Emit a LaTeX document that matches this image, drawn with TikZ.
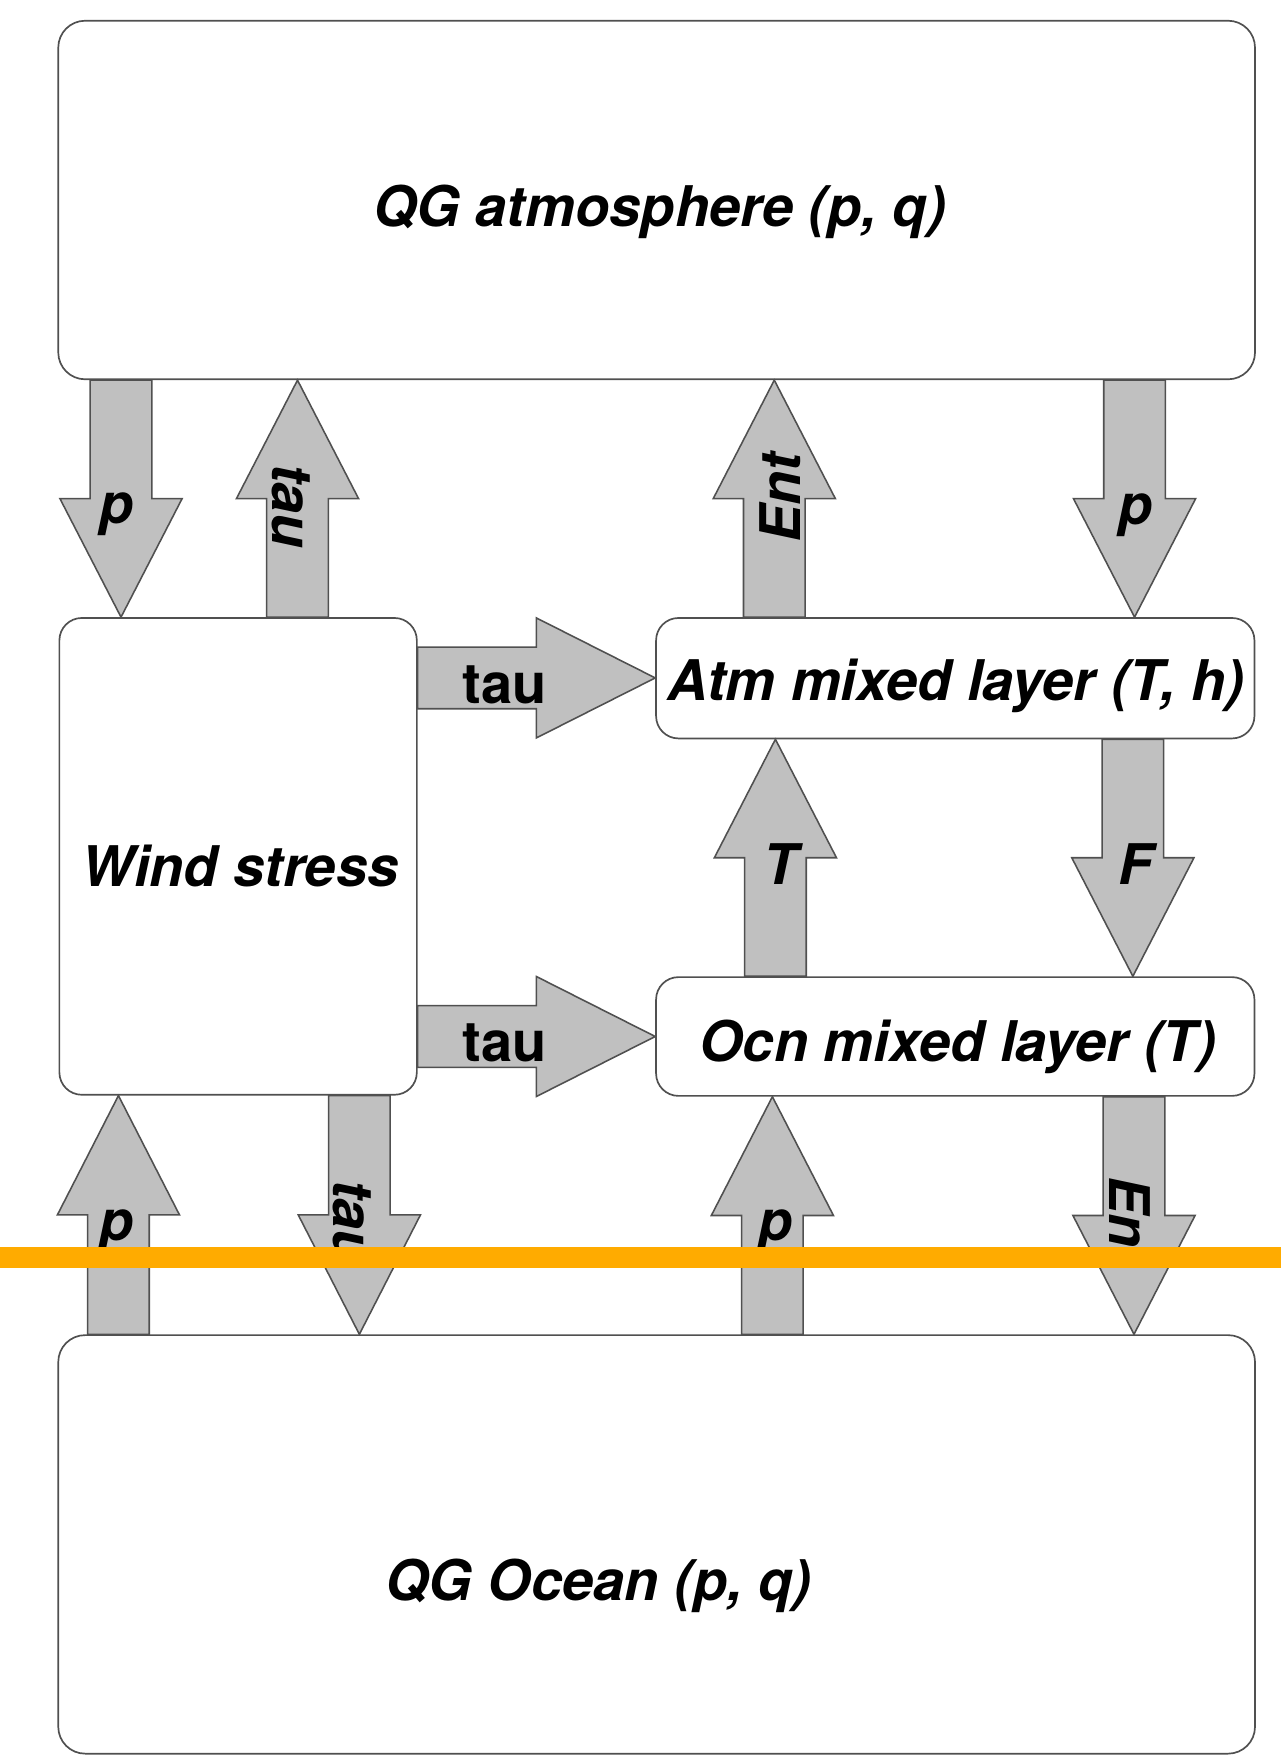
\documentclass[tikz,border=0pt]{standalone}
\usepackage{fontspec}
\setmainfont{TeX Gyre Heros}
\usetikzlibrary{calc}
\definecolor{arrowfill}{RGB}{192,192,192}
\definecolor{edgegray}{RGB}{80,80,80}
\definecolor{barorange}{RGB}{255,171,0}

% vertical block arrow: #1 = x, #2 = start anchor, #3 = tip anchor
\newcommand{\vblk}[3]{%
  \draw[blk] let \p1=(#2), \p2=(#3), \p3=($(#2)!0.5!(#3)$) in
    (#1pt-27.5pt,\y1) -- (#1pt+27.5pt,\y1) -- (#1pt+27.5pt,\y3) -- (#1pt+54.5pt,\y3)
    -- (#1pt,\y2) -- (#1pt-54.5pt,\y3) -- (#1pt-27.5pt,\y3) -- cycle;}
% horizontal block arrow: #1 = y, #2 = start anchor, #3 = tip anchor
\newcommand{\hblk}[3]{%
  \draw[blk] let \p1=(#2), \p2=(#3), \p3=($(#2)!0.5!(#3)$) in
    (\x1,-#1pt+27.5pt) -- (\x3,-#1pt+27.5pt) -- (\x3,-#1pt+53.5pt) -- (\x2,-#1pt)
    -- (\x3,-#1pt-53.5pt) -- (\x3,-#1pt-27.5pt) -- (\x1,-#1pt-27.5pt) -- cycle;}

\begin{document}
\begin{tikzpicture}[x=1pt,y=-1pt,
  box/.style={draw=edgegray, line width=1.5pt, fill=white, inner sep=0pt, rounded corners=#1},
  box/.default=20pt,
  blk/.style={draw=edgegray, line width=1.4pt, fill=arrowfill, line join=miter},
  lbl/.style={font=\fontsize{50}{60}\selectfont\bfseries\itshape, inner sep=0pt},
  lblu/.style={font=\fontsize{50}{60}\selectfont\bfseries, inner sep=0pt}]

\fill[white] (0,0) rectangle (1143,1568);
\useasboundingbox (0,0) rectangle (1143,1568);

% boxes
\node[box=24pt, minimum width=1068pt, minimum height=320pt] (atm) at (586,178.5) {};
\node[box, minimum width=319pt, minimum height=425.5pt] (wind) at (212.5,764.25) {};
\node[box, minimum width=534pt, minimum height=107.5pt] (aml) at (852.5,605.25) {};
\node[box, minimum width=534pt, minimum height=106pt] (oml) at (852.5,925) {};
\node[box=24pt, minimum width=1068pt, minimum height=373.5pt] (ocean) at (586,1378.25) {};

% box texts
\node[lbl, anchor=base] (atmT) at (588.5,202) {QG atmosphere (p, q)};
\node[lbl, anchor=base] (windT) at (214,791) {Wind stress};
\node[lbl, anchor=base] (amlT) at (853,625) {Atm mixed layer (T, h)};
\node[lbl, anchor=base] (omlT) at (854.5,947) {Ocn mixed layer (T)};
\node[lbl, anchor=base] (oceT) at (534,1428) {QG Ocean (p, q)};

% block arrows
\vblk{108}{atm.south}{wind.north}
\vblk{265.5}{wind.north}{atm.south}
\vblk{691}{aml.north}{atm.south}
\vblk{1012.5}{atm.south}{aml.north}
\hblk{605}{wind.east}{aml.west}
\hblk{925}{wind.east}{oml.west}
\vblk{692}{oml.north}{aml.south}
\vblk{1011}{aml.south}{oml.north}
\vblk{105.7}{ocean.north}{wind.south}
\vblk{320.7}{wind.south}{ocean.north}
\vblk{689.3}{ocean.north}{oml.south}
\vblk{1012}{oml.south}{ocean.north}

% arrow labels
\node[lbl, anchor=base] (lp1) at (104.5,467) {p};
\node[lbl, rotate=-90] (ltau1) at (259.5,451.5) {tau};
\node[lbl, rotate=90] (lent1) at (696,444) {Ent};
\node[lbl, anchor=base] (lp2) at (1013,468) {p};
\node[lblu, anchor=base] (ltauh1) at (450.5,628) {tau};
\node[lblu, anchor=base] (ltauh2) at (450.5,947) {tau};
\node[lbl, anchor=base] (lT) at (697,789) {T};
\node[lbl, anchor=base] (lF) at (1013.5,789) {F};
\node[lbl, anchor=base] (lp3) at (104,1107) {p};
\node[lbl, rotate=-90] (ltau2) at (314,1090.5) {tau};
\node[lbl, anchor=base] (lp4) at (692,1107) {p};
\node[lbl, rotate=-90] (lent2) at (1008,1090) {Ent};

% orange bar
\fill[barorange] (0,1113) rectangle (1143,1132);
\end{tikzpicture}
\end{document}
